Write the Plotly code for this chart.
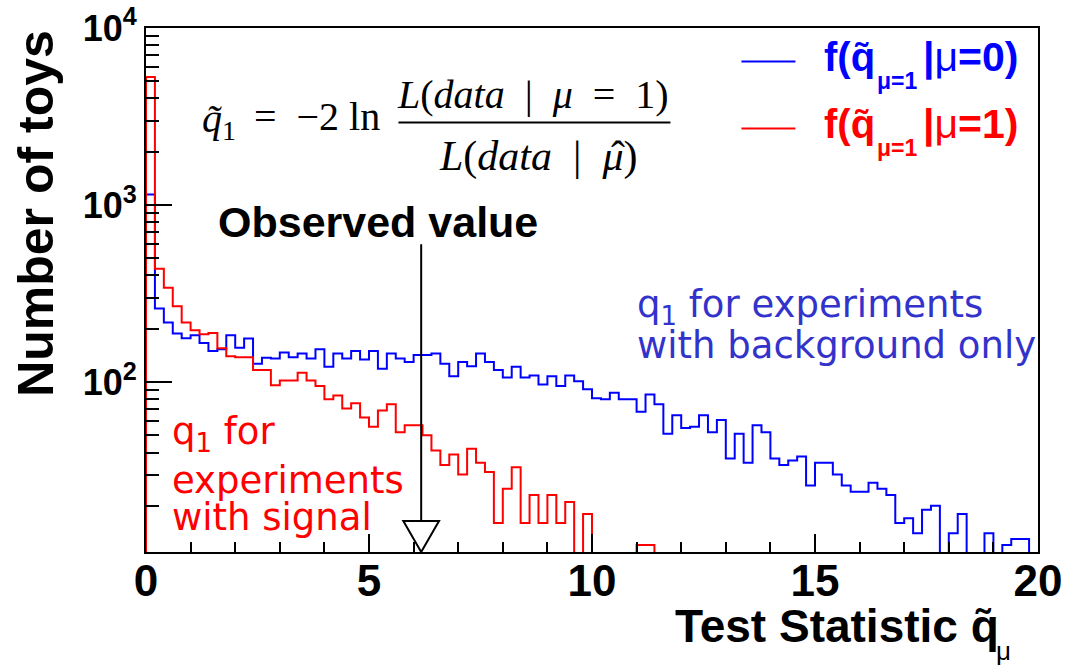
import plotly.graph_objects as go

# Histogram contents: 100 bins of width 0.2 on [0, 20]
bin_lo = 0.0
bin_hi = 20.0

# f(q | mu=0): toys generated with background only
counts_bkg = [
    1146, 260, 217, 188, 177, 184, 166, 150, 153, 184,
    156, 176, 127, 137, 136, 147, 138, 145, 136, 153,
    122, 145, 136, 150, 134, 150, 119, 145, 136, 130,
    142, 142, 145, 127, 108, 130, 123, 145, 130, 117,
    106, 122, 106, 109, 97, 108, 95, 109, 101, 91,
    81, 80, 87, 80, 80, 68, 85, 75, 51, 65,
    55, 56, 65, 52, 61, 37, 51, 35, 57, 52,
    37, 34, 36, 38, 26, 35, 35, 30, 26, 24,
    24, 27, 25, 23, 16, 17, 14, 19, 20, 0,
    14, 18, 0, 0, 14, 0, 12, 13, 13, 0,
]

# f(q | mu=1): toys generated with signal
counts_sig = [
    5280, 437, 341, 268, 217, 196, 186, 189, 155, 140,
    138, 138, 117, 117, 96, 102, 102, 113, 102, 95,
    80, 84, 71, 76, 63, 56, 69, 75, 52, 57,
    57, 50, 41, 34, 39, 30, 42, 35, 31, 16,
    25, 33, 16, 23, 16, 23, 16, 21, 0, 18,
    0, 0, 0, 0, 0, 12, 12, 0, 0, 0,
    0, 0, 0, 0, 0, 0, 0, 0, 0, 0,
    0, 0, 0, 0, 0, 0, 0, 0, 0, 0,
    0, 0, 0, 0, 0, 0, 0, 0, 0, 0,
    0, 0, 0, 0, 0, 0, 0, 0, 0, 0,
]

observed_q = 6.17

x_ticks = [0, 5, 10, 15, 20]
y_ticks = [100, 1000, 10000]
y_ticktext = ["<b>10<sup>2</sup></b>", "<b>10<sup>3</sup></b>", "<b>10<sup>4</sup></b>"]

y_min_log = 1.04
y_max_log = 4.0

BLUE = "#0000ff"
RED = "#ff0000"
LABEL_BLUE = "#3333cc"

# figure geometry (pixels) used to place decorations
W, H = 1065, 668
L, R, T, B = 145.5, 1037.6, 27.5, 552.0


def px(x):
    return (x - L) / (R - L)


def py(y):
    return (B - y) / (B - T)


def step_xy(counts):
    width = (bin_hi - bin_lo) / len(counts)
    floor = 1.0  # empty bins drop below the visible range
    xs = [bin_lo]
    ys = [floor]
    for i, c in enumerate(counts):
        xs.append(bin_lo + i * width)
        ys.append(c if c > 0 else floor)
    xs.append(bin_hi)
    ys.append(ys[-1])
    xs.append(bin_hi)
    ys.append(floor)
    return xs, ys


fig = go.Figure()
for counts, color in [(counts_bkg, BLUE), (counts_sig, RED)]:
    xs, ys = step_xy(counts)
    fig.add_trace(go.Scatter(
        x=xs, y=ys, mode="lines", line=dict(color=color, width=2, shape="hv"),
        showlegend=False, hoverinfo="skip",
    ))

fig.update_layout(
    width=W, height=H,
    margin=dict(l=L, r=W - R, t=T, b=H - B, pad=0, autoexpand=False),
    paper_bgcolor="white", plot_bgcolor="white",
    showlegend=False,
    xaxis=dict(
        range=[bin_lo, bin_hi], showgrid=False, zeroline=False, automargin=False,
        showline=True, linecolor="black", linewidth=2, mirror=True,
        ticks="inside", ticklen=18, tickwidth=2, tickcolor="black",
        tickvals=x_ticks, ticktext=[f"<b>{v}</b>" for v in x_ticks],
        tickfont=dict(family="Liberation Sans", size=44, color="black"),
        ticklabelstandoff=-11,
        minor=dict(ticks="inside", ticklen=10, tickwidth=2, tickcolor="black", dtick=1),
    ),
    yaxis=dict(
        type="log", range=[y_min_log, y_max_log], showgrid=False, zeroline=False,
        automargin=False,
        showline=True, linecolor="black", linewidth=2, mirror=True,
        ticks="inside", ticklen=26, tickwidth=2, tickcolor="black",
        tickvals=y_ticks, ticktext=y_ticktext,
        tickfont=dict(family="Liberation Sans", size=36, color="black"),
        minor=dict(ticks="inside", ticklen=13, tickwidth=2, tickcolor="black", dtick="D1"),
    ),
)

ann = []


def add_text(text, x, y, size, family, color="black", xanchor="left", angle=0):
    ann.append(dict(
        text=text, x=px(x), y=py(y), xref="paper", yref="paper", showarrow=False,
        xanchor=xanchor, yanchor="middle", textangle=angle,
        font=dict(family=family, size=size, color=color),
    ))


SANS = "Liberation Sans"
SERIF = "Liberation Serif"
VERD = "DejaVu Sans"

# axis titles
add_text("<b>Number of toys</b>", 36, 213, 50, SANS, xanchor="center", angle=-90)
add_text("<b>Test Statistic q\u0303</b>", 1001, 626, 46, SANS, xanchor="right")
add_text("\u03bc", 1003, 651, 26, SANS, xanchor="center")

# test statistic definition
add_text("<i>q\u0303</i><sub>1</sub>", 200, 121, 40, SERIF)
add_text("=\u00a0\u00a0\u22122\u00a0ln", 252, 116, 40, SERIF)
add_text("<i>L</i>(<i>data</i>\u00a0 |\u00a0 <i>\u03bc</i>\u00a0 =\u00a0 1)", 533, 94, 40, SERIF,
         xanchor="center")
add_text("<i>L</i>(<i>data</i>\u00a0 |\u00a0 <i>\u03bc</i>)", 640, 156, 42, SERIF, xanchor="right")
add_text("\u02c6", 618, 156, 42, SERIF, xanchor="center")

# observed value label
add_text("<b>Observed value</b>", 378, 222, 43, SANS, xanchor="center")

# legend entries
for base_y, label, color in [(57, "0", BLUE), (124, "1", RED)]:
    add_text("<b>f(q\u0303</b>", 822, base_y, 40, SANS, color=color)
    add_text("<b>\u03bc=1</b>", 875, base_y + 24, 23, SANS, color=color)
    add_text(f"<b>|</b>\u03bc<b>={label})</b>", 921, base_y, 41, SANS, color=color)

# descriptive labels
add_text("q<sub>1</sub> for experiments", 635, 307, 37, VERD, color=LABEL_BLUE)
add_text("with background only", 635, 345, 37, VERD, color=LABEL_BLUE)
add_text("q<sub>1</sub> for", 170, 434, 37, VERD, color=RED)
add_text("experiments", 170, 480, 37, VERD, color=RED)
add_text("with signal", 170, 517, 37, VERD, color=RED)

fig.update_layout(annotations=ann)

shapes = []
# fraction bar
shapes.append(dict(type="line", xref="paper", yref="paper",
                   x0=px(398), x1=px(670), y0=py(122), y1=py(122),
                   line=dict(color="black", width=2)))
# legend line samples
shapes.append(dict(type="line", xref="paper", yref="paper",
                   x0=px(741), x1=px(795), y0=py(61), y1=py(61),
                   line=dict(color=BLUE, width=2)))
shapes.append(dict(type="line", xref="paper", yref="paper",
                   x0=px(741), x1=px(795), y0=py(128), y1=py(128),
                   line=dict(color=RED, width=2)))
# observed-value arrow with open triangular head
tri_top = py(521)
half_w = 0.4
shapes.append(dict(type="line", xref="x", yref="paper",
                   x0=observed_q, x1=observed_q, y0=py(244), y1=tri_top,
                   line=dict(color="black", width=2)))
shapes.append(dict(type="path", xref="x", yref="paper",
                   path=f"M {observed_q - half_w},{tri_top} L {observed_q + half_w},{tri_top} "
                        f"L {observed_q},0 Z",
                   line=dict(color="black", width=2), fillcolor="rgba(0,0,0,0)"))
fig.update_layout(shapes=shapes)

fig.write_html("out.html")
